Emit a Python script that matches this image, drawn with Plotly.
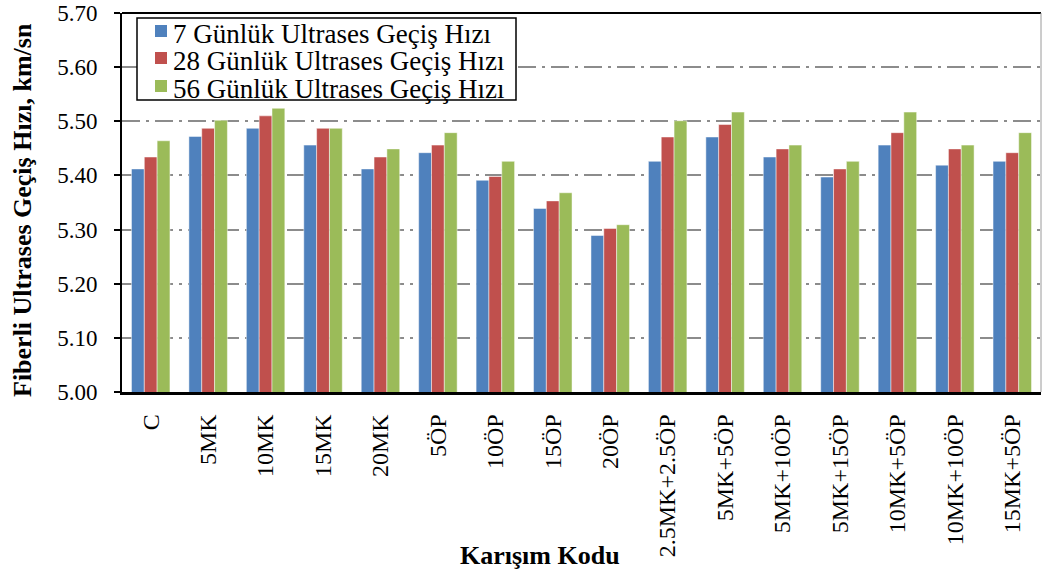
import plotly.graph_objects as go

categories = ["C", "5MK", "10MK", "15MK", "20MK", "5ÖP", "10ÖP", "15ÖP", "20ÖP",
              "2.5MK+2.5ÖP", "5MK+5ÖP", "5MK+10ÖP", "5MK+15ÖP", "10MK+5ÖP",
              "10MK+10ÖP", "15MK+5ÖP"]
day7 = [5.412, 5.472, 5.487, 5.456, 5.412, 5.442, 5.391, 5.339, 5.289,
        5.426, 5.471, 5.434, 5.397, 5.456, 5.419, 5.426]
day28 = [5.434, 5.487, 5.510, 5.487, 5.434, 5.456, 5.398, 5.353, 5.302,
         5.471, 5.494, 5.449, 5.412, 5.479, 5.449, 5.442]
day56 = [5.464, 5.502, 5.524, 5.487, 5.449, 5.479, 5.426, 5.368, 5.309,
         5.501, 5.517, 5.456, 5.426, 5.517, 5.456, 5.479]
series_names = ["7 Günlük Ultrases Geçiş Hızı", "28 Günlük Ultrases Geçiş Hızı",
                "56 Günlük Ultrases Geçiş Hızı"]
colors = ["#4F81BD", "#C0504D", "#9BBB59"]

FONT = "Liberation Serif, Times New Roman, serif"

# plot area in page pixels
PL, PR, PT, PB = 122, 1041, 13, 392
def px(x):
    return (x - PL) / (PR - PL)
def py(y):
    return (PB - y) / (PB - PT)

fig = go.Figure()
for name, vals, col in zip(series_names, [day7, day28, day56], colors):
    fig.add_trace(go.Bar(x=categories, y=vals, name=name, showlegend=False,
                         marker=dict(color=col, line=dict(color="rgba(255,255,255,0.6)", width=0.8))))

fig.update_layout(
    width=1043, height=577,
    margin=dict(l=PL, r=1043 - PR, t=PT, b=577 - PB, autoexpand=False),
    paper_bgcolor="white", plot_bgcolor="white",
    barmode="group", bargap=0.33, bargroupgap=0,
    font=dict(family=FONT, color="black", size=23),
    showlegend=False,
)
fig.update_yaxes(range=[5.0, 5.7], dtick=0.1, tickformat=".2f",
                 automargin=False, ticklabeloverflow="allow",
                 showgrid=True, gridcolor="#8c8c8c", gridwidth=1.5,
                 griddash="18px,6px,3px,6px",
                 showline=True, linecolor="black", linewidth=2,
                 ticks="outside", ticklen=6, tickcolor="black", tickwidth=1.5,
                 ticklabelstandoff=12,
                 tickfont=dict(family=FONT, size=23),
                 zeroline=False)
fig.update_xaxes(showline=True, linecolor="black", linewidth=2.5,
                 automargin=False,
                 ticks="", tickangle=-90, ticklabelstandoff=10,
                 tickfont=dict(family=FONT, size=24))
fig.add_annotation(text="<b>Fiberli Ultrases Geçiş Hızı, km/sn</b>",
                   xref="paper", yref="paper", x=px(22), y=py(210),
                   xanchor="center", yanchor="middle", textangle=-90,
                   showarrow=False, font=dict(family=FONT, size=26))
fig.add_annotation(text="<b>Karışım Kodu</b>",
                   xref="paper", yref="paper", x=px(540), y=py(555),
                   xanchor="center", yanchor="middle",
                   showarrow=False, font=dict(family=FONT, size=26))
fig.add_shape(type="line", xref="paper", yref="paper", x0=0, x1=1, y0=1, y1=1,
              line=dict(color="black", width=2))
fig.add_shape(type="line", xref="paper", yref="paper", x0=1, x1=1, y0=0, y1=1,
              line=dict(color="#9a9a9a", width=1))

# legend box
fig.add_shape(type="rect", xref="paper", yref="paper",
              x0=px(137), x1=px(516), y0=py(100), y1=py(18),
              line=dict(color="black", width=1.5), fillcolor="white", layer="above")
sq_y = [31, 58, 86]
for name, col, ry in zip(series_names, colors, sq_y):
    fig.add_shape(type="rect", xref="paper", yref="paper",
                  x0=px(155), x1=px(167), y0=py(ry + 6), y1=py(ry - 6),
                  line=dict(width=0), fillcolor=col, layer="above")
    fig.add_annotation(text=name, xref="paper", yref="paper",
                       x=px(171), y=py(ry + 3), xanchor="left", yanchor="middle",
                       showarrow=False, font=dict(family=FONT, size=27, color="black"))

fig.write_html("out.html", config={"displayModeBar": False},
               post_script="document.body.style.margin='0';")
